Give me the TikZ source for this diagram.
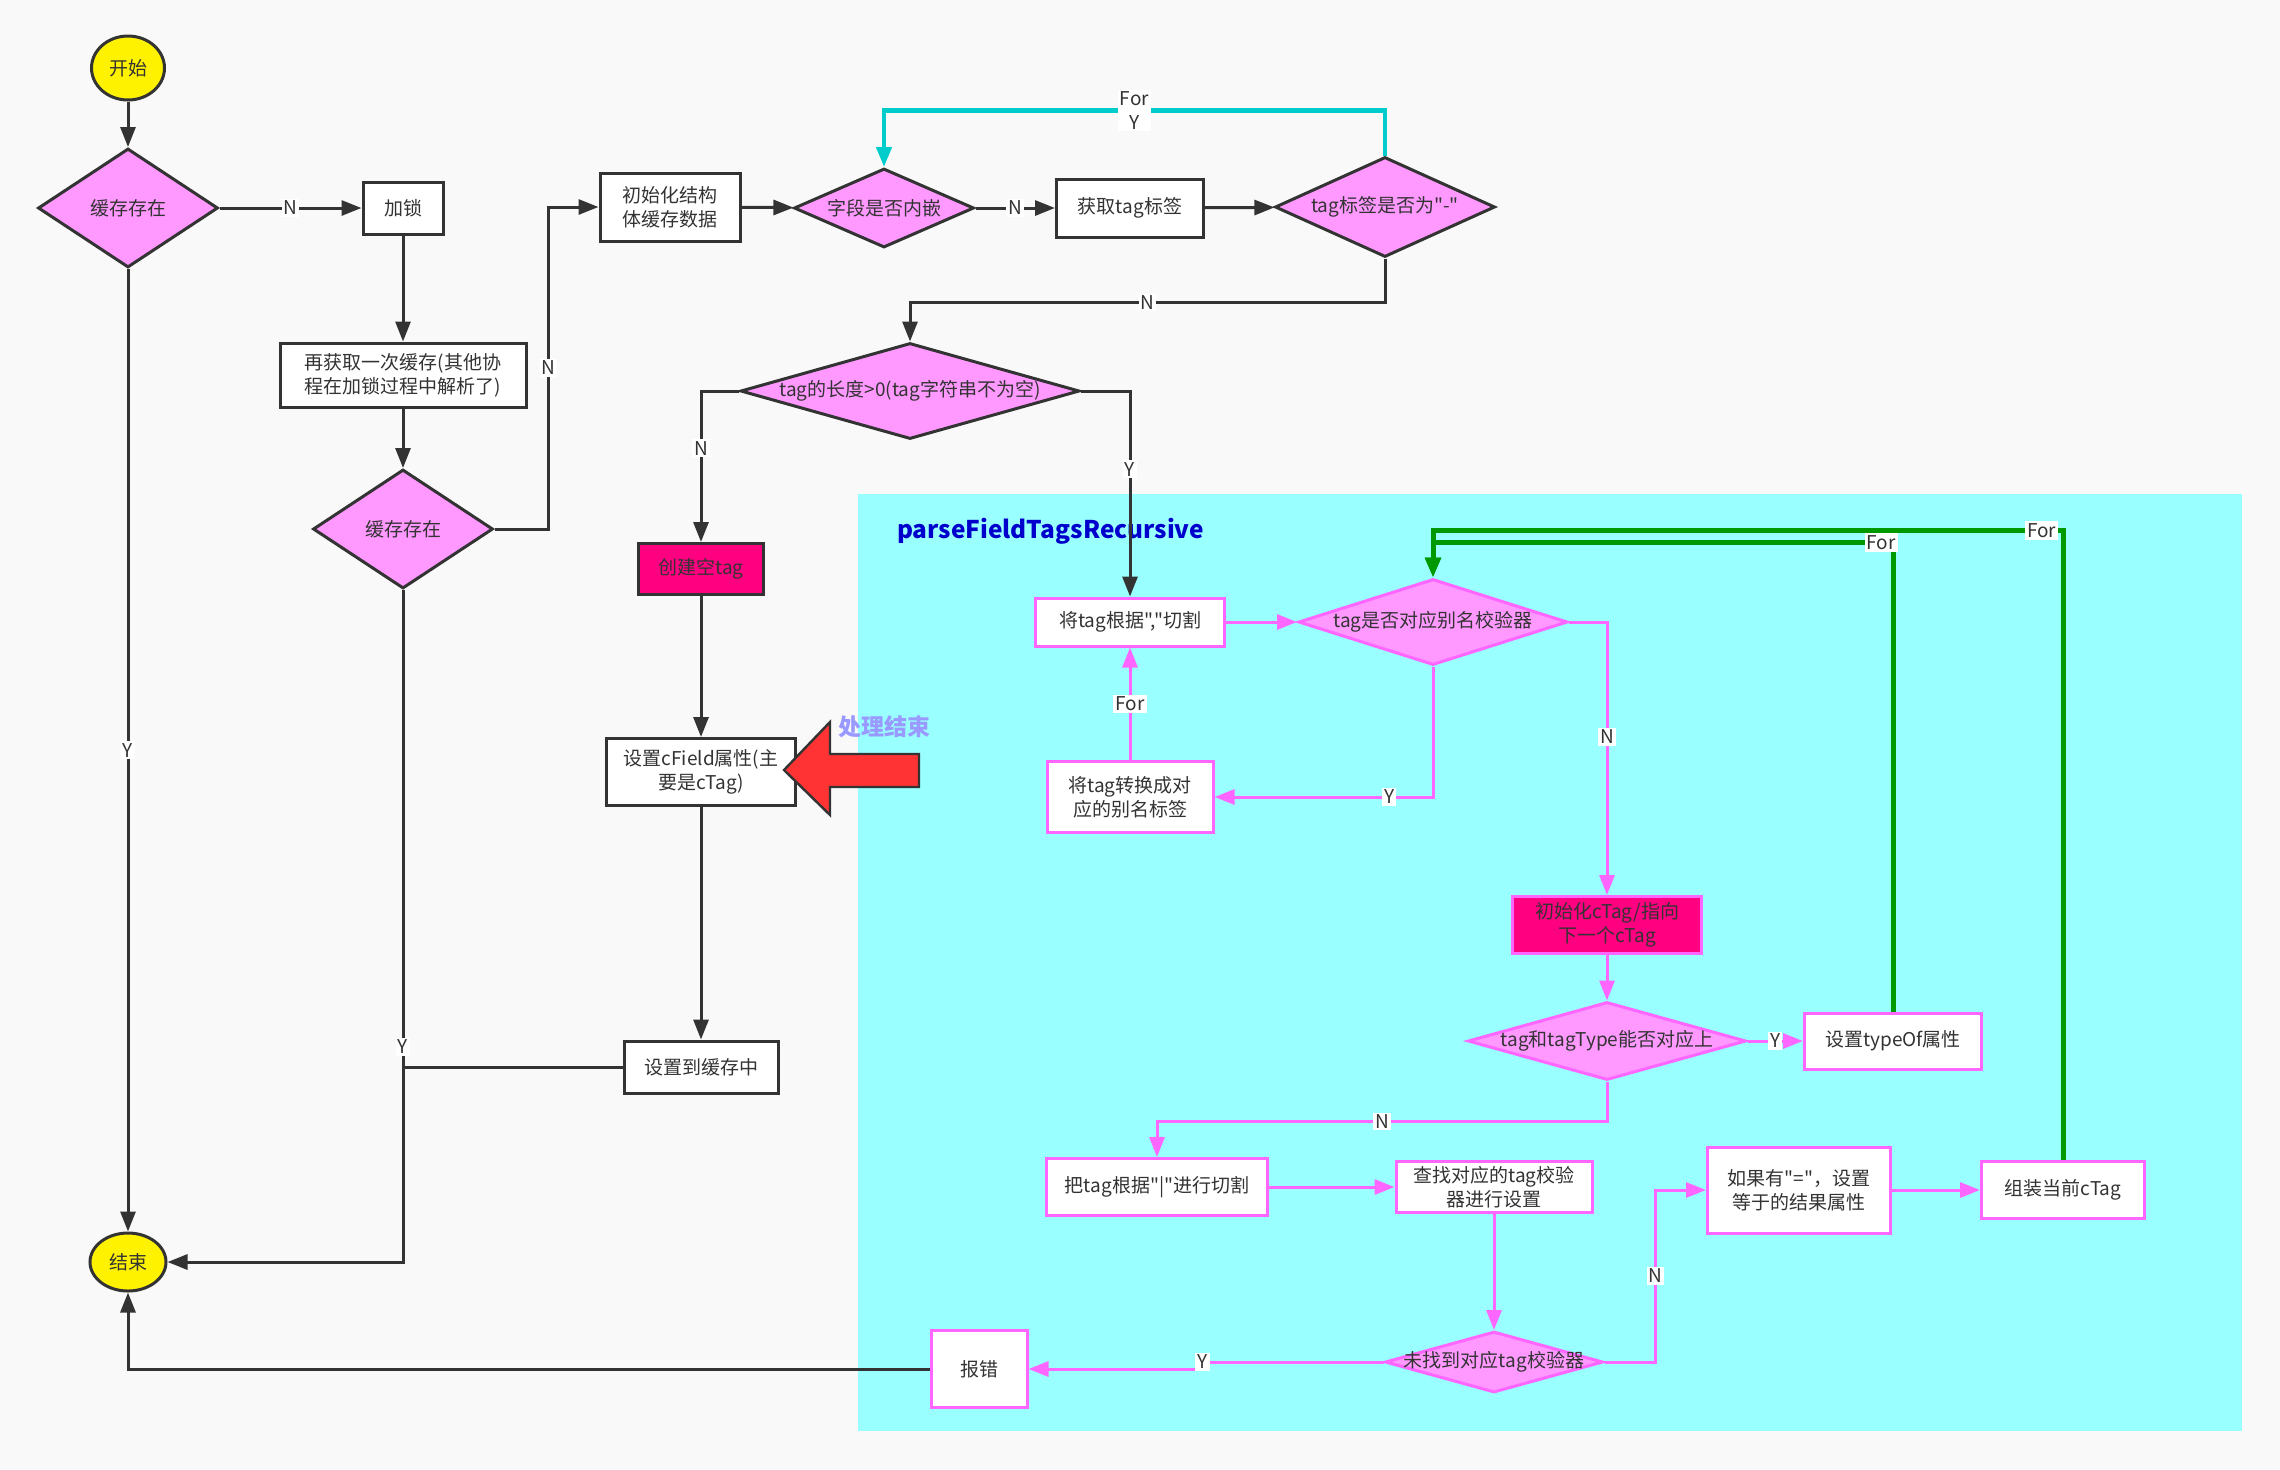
\documentclass[tikz,border=0pt]{standalone}
\usepackage{fontspec}
\setmainfont{Noto Sans CJK SC}[Ligatures=TeXOff]
\usetikzlibrary{arrows.meta,shapes.geometric,calc}
\definecolor{bg}{HTML}{F9F9F9}
\definecolor{dk}{HTML}{333333}
\definecolor{pinkd}{HTML}{FF99FF}
\definecolor{hotp}{HTML}{FF0080}
\definecolor{mag}{HTML}{FF66FF}
\definecolor{cyanbg}{HTML}{99FFFF}
\definecolor{loopc}{HTML}{00CCCC}
\definecolor{grn}{HTML}{009900}
\definecolor{redar}{HTML}{FF3333}
\definecolor{lav}{HTML}{9999FF}
\definecolor{ttl}{HTML}{0000CC}
\newcommand\ctr[1]{\makebox[0pt]{#1}}

\begin{document}
\begin{tikzpicture}[x=0.5pt,y=-0.5pt,font=\fontsize{9.5}{12}\selectfont,text=dk,
  sz/.style 2 args={minimum width=#1*0.5pt,minimum height=#2*0.5pt},
  base/.style={draw=dk,line width=1.5pt,inner sep=2pt,align=center},
  box/.style={base,fill=white},
  dia/.style={base,diamond,fill=pinkd,inner sep=0pt},
  term/.style={base,ellipse,fill=yellow,inner sep=0pt},
  hot/.style={base,fill=hotp},
  mbox/.style={box,draw=mag},
  mdia/.style={dia,draw=mag},
  ln/.style={draw=dk,line width=1.5pt},
  arr/.style={ln,-{Triangle[length=10pt,width=7.5pt]}},
  marr/.style={arr,draw=mag},
  forc/.style={arr,draw=loopc,line width=2.2pt},
  forg/.style={arr,draw=grn,line width=2.5pt},
  lbl/.style={fill=white,inner sep=1pt,text=dk,font=\fontsize{9.5}{12}\selectfont}]
\fill[bg] (0,0) rectangle (2280,1469);
\useasboundingbox (0,0) rectangle (2280,1469);
\fill[cyanbg] (858,494) rectangle (2242,1431);
\node[anchor=west,text=ttl,font=\fontsize{12.2}{15}\selectfont\bfseries] (title) at (890,531) {parseFieldTagsRecursive};

% main path
\node[term,sz={73}{64}] (start) at (128,68) {开始};
\node[dia,sz={180}{119}] (c1) at (128,208) {\ctr{缓存存在}};
\node[box,sz={80}{52}] (lock) at (403,208) {加锁};
\node[box,sz={246}{64}] (again) at (403,375) {再获取一次缓存(其他协\\程在加锁过程中解析了)};
\node[dia,sz={180}{119}] (c2) at (403,529) {\ctr{缓存存在}};
\node[box,sz={140}{68}] (init) at (670,207) {初始化结构\\体缓存数据};
\node[dia,sz={180}{79}] (embed) at (884,208) {\ctr{字段是否内嵌}};
\node[box,sz={147}{58}] (gettag) at (1130,208) {获取tag标签};
\node[dia,sz={220}{100}] (dash) at (1385,207) {\ctr{tag标签是否为"-"}};
\node[dia,sz={339}{96}] (len) at (910,391) {\ctr{tag的长度>0(tag字符串不为空)}};
\node[hot,sz={125}{51}] (empty) at (701,569) {创建空tag};
\node[box,sz={189}{67}] (setf) at (701,772) {设置cField属性(主\\要是cTag)};
\node[box,sz={154}{52}] (save) at (701,1067) {设置到缓存中};
\node[term,sz={76}{58}] (stop) at (128,1262) {结束};

% parseFieldTagsRecursive
\node[mbox,sz={189}{48}] (split) at (1130,622) {将tag根据","切割};
\node[mdia,sz={269}{86}] (alias) at (1433,622) {\ctr{tag是否对应别名校验器}};
\node[mbox,sz={166}{71}] (conv) at (1130,797) {将tag转换成对\\应的别名标签};
\node[hot,draw=mag,sz={189}{57}] (next) at (1607,925) {初始化cTag/指向\\下一个cTag};
\node[mdia,sz={278}{78}] (match) at (1607,1041) {\ctr{tag和tagType能否对应上}};
\node[mbox,sz={177}{56}] (typeof) at (1893,1041) {设置typeOf属性};
\node[mbox,sz={221}{57}] (pipe) at (1157,1187) {把tag根据"|"进行切割};
\node[mbox,sz={196}{51}] (find) at (1494,1187) {查找对应的tag校验\\器进行设置};
\node[mdia,sz={218}{61}] (nf) at (1494,1362) {\ctr{未找到对应tag校验器}};
\node[mbox,sz={96}{77}] (err) at (979,1369) {报错};
\node[mbox,sz={183}{86}] (eq) at (1799,1190) {如果有"="，设置\\等于的结果属性};
\node[mbox,sz={163}{57}] (asm) at (2063,1190) {组装当前cTag};

% red marker
\draw[draw=dk,line width=1.2pt,fill=redar] (784,770) -- (830,722) -- (830,754) -- (919,754) -- (919,787) -- (830,787) -- (830,815) -- cycle;
\node[text=lav,font=\fontsize{11.5}{13}\selectfont\bfseries] (done) at (884,727) {处理结束};

% connectors
\draw[arr] (start) -- (c1);
\draw[arr] (c1) -- node[lbl]{N} (lock);
\draw[arr] (lock) -- (again);
\draw[arr] (again) -- (c2);
\draw[arr] (c2.east) -- ++(54,0) |- node[lbl,pos=.25]{N} (init.west);
\draw[arr] (c1) -- node[lbl]{Y} (stop);
\draw[arr] (c2) |- node[lbl,pos=.34]{Y} (stop);
\draw[ln] (save) -- (save -| c2);
\draw[arr] (init) -- (embed);
\draw[arr] (embed) -- node[lbl]{N} (gettag);
\draw[arr] (gettag) -- (dash);
\draw[forc] (dash.north) -- ++(0,-45) -| node[lbl,pos=.25,align=center]{For\\Y} (embed.north);
\draw[arr] (dash.south) -- ++(0,44) -| node[lbl,pos=.25]{N} (len.north);
\draw[arr] (len.west) -| node[lbl,pos=.69]{N} (empty.north);
\draw[arr] (len.east) -| node[lbl,pos=.69]{Y} (split.north);
\draw[arr] (empty) -- (setf);
\draw[arr] (setf) -- (save);
\draw[arr] (err.west) -| (stop.south);

\draw[marr] (split) -- (alias);
\draw[marr] (alias.south) |- node[lbl,pos=.6]{Y} (conv.east);
\draw[marr] (conv) -- node[lbl]{For} (split);
\draw[marr] (alias.east) -| node[lbl,pos=.71]{N} (next.north);
\draw[marr] (next) -- (match);
\draw[marr] (match) -- node[lbl]{Y} (typeof);
\draw[marr] (match.south) -- ++(0,40) -| node[lbl,pos=.25]{N} (pipe.north);
\draw[marr] (pipe) -- (find);
\draw[marr] (find) -- (nf);
\draw[marr] (nf.west) -- node[lbl,pos=1]{Y} ++(-181,0) |- (err.east);
\draw[marr] (nf.east) -- ++(51,0) |- node[lbl,pos=.25]{N} (eq.west);
\draw[marr] (eq) -- (asm);
\draw[forg] (asm.north) |- node[lbl,pos=.517]{For} ($(alias.north)+(0,-47)$) -- (alias.north);
\draw[forg] (typeof.north) |- node[lbl,pos=.513]{For} ($(alias.north)+(0,-35)$) -- (alias.north);
\end{tikzpicture}
\end{document}
